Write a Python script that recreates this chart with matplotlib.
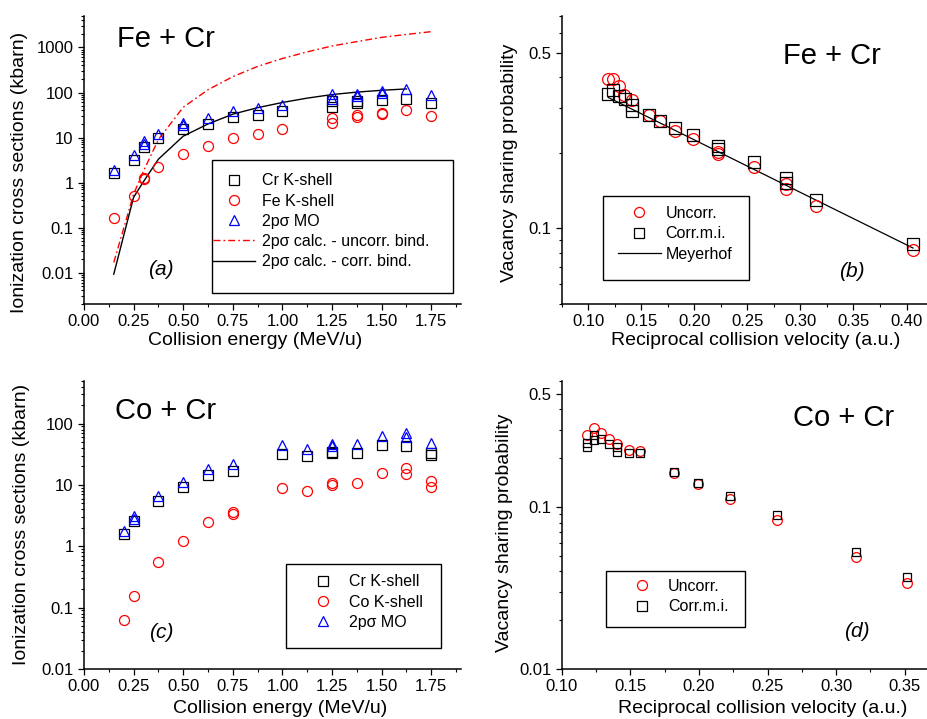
import matplotlib
matplotlib.use("Agg")
import matplotlib.pyplot as plt
from matplotlib.patches import Rectangle
from matplotlib.ticker import FixedLocator, MultipleLocator, FormatStrFormatter, FuncFormatter, LogLocator, NullFormatter
from matplotlib.lines import Line2D

plt.rcParams['font.family'] = ['Liberation Sans', 'DejaVu Sans']

# --- (a) Fe + Cr cross sections
a_cr_E = [0.15, 0.25, 0.30, 0.375, 0.5, 0.625, 0.75, 0.875, 1.0, 1.25, 1.25, 1.375, 1.375, 1.5, 1.625, 1.75]
a_cr = [1.6, 3.2, 6.1, 9.8, 15.2, 19.5, 28.5, 31, 38.5, 46.5, 64, 58, 64, 66.5, 73, 58.5]
a_fe_E = [0.15, 0.25, 0.30, 0.30, 0.375, 0.5, 0.625, 0.75, 0.875, 1.0, 1.25, 1.25, 1.375, 1.375, 1.5, 1.5, 1.625, 1.75]
a_fe = [0.163, 0.51, 1.17, 1.26, 2.2, 4.2, 6.4, 9.8, 11.8, 15.5, 27, 21.5, 31, 28.5, 35, 33, 40, 30]
a_mo_E = [0.15, 0.25, 0.30, 0.30, 0.375, 0.5, 0.5, 0.625, 0.75, 0.875, 1.0, 1.25, 1.25, 1.375, 1.375, 1.5, 1.5, 1.625, 1.75]
a_mo = [1.85, 4.0, 8.3, 7.2, 12.2, 21, 19, 27.5, 39.5, 45, 53, 94, 70, 92, 82, 106, 97, 117, 90]
a_unc_E = [0.15, 0.25, 0.30, 0.375, 0.5, 0.625, 0.75, 0.875, 1.0, 1.125, 1.25, 1.375, 1.5, 1.625, 1.75]
a_unc = [0.0167, 0.55, 1.8, 9, 47, 115, 225, 380, 570, 800, 1080, 1350, 1680, 1950, 2250]
a_cor_E = [0.15, 0.25, 0.30, 0.375, 0.5, 0.625, 0.75, 0.875, 1.0, 1.125, 1.25, 1.375, 1.5, 1.625]
a_cor = [0.0092, 0.47, 1.05, 3.3, 10.7, 20, 33, 46, 60, 75, 90, 102, 112, 120]

# --- (b) Fe + Cr vacancy sharing
b_unc_x = [0.1182, 0.1235, 0.1289, 0.1336, 0.1408, 0.1575, 0.1678, 0.1816, 0.1989, 0.2221, 0.2221, 0.2564, 0.2868, 0.2868, 0.3144, 0.4061]
b_unc = [0.393, 0.392, 0.369, 0.341, 0.324, 0.283, 0.267, 0.244, 0.226, 0.198, 0.201, 0.175, 0.144, 0.150, 0.123, 0.0818]
b_cor_x = [0.1188, 0.1235, 0.1289, 0.1342, 0.1408, 0.1408, 0.1575, 0.1678, 0.1816, 0.1989, 0.2221, 0.2221, 0.2564, 0.2868, 0.2868, 0.3144, 0.4061]
b_cor = [0.343, 0.354, 0.337, 0.326, 0.310, 0.293, 0.283, 0.268, 0.252, 0.235, 0.212, 0.207, 0.183, 0.159, 0.151, 0.130, 0.0867]
b_mey_x = [0.1188, 0.2, 0.3, 0.4061]
b_mey = [0.332, 0.225, 0.139, 0.0835]

# --- (c) Co + Cr cross sections
c_cr_E = [0.2, 0.25, 0.375, 0.5, 0.625, 0.75, 1.0, 1.125, 1.25, 1.25, 1.375, 1.5, 1.625, 1.75, 1.75]
c_cr = [1.6, 2.6, 5.5, 9.1, 14.7, 17.1, 32, 29.3, 35, 33.7, 33.2, 44.8, 42.6, 30.4, 33]
c_co_E = [0.2, 0.25, 0.375, 0.5, 0.625, 0.75, 0.75, 1.0, 1.125, 1.25, 1.25, 1.375, 1.5, 1.625, 1.625, 1.75, 1.75]
c_co = [0.063, 0.156, 0.565, 1.23, 2.48, 3.57, 3.4, 9.0, 8.1, 10.7, 9.8, 10.9, 15.6, 18.9, 15.1, 11.5, 9.4]
c_mo_E = [0.2, 0.25, 0.25, 0.375, 0.5, 0.625, 0.75, 1.0, 1.125, 1.25, 1.25, 1.375, 1.5, 1.625, 1.625, 1.75]
c_mo = [1.77, 3.07, 2.8, 6.7, 11, 18.2, 21.9, 44.3, 38.6, 47.1, 43.7, 46.6, 63.7, 70.4, 60.5, 48.4]

# --- (d) Co + Cr vacancy sharing
d_unc_x = [0.1182, 0.1236, 0.1285, 0.1343, 0.1406, 0.1489, 0.1572, 0.1818, 0.1990, 0.2226, 0.2569, 0.3146, 0.3518]
d_unc = [0.278, 0.307, 0.285, 0.262, 0.245, 0.223, 0.220, 0.161, 0.139, 0.1115, 0.0831, 0.0489, 0.0341]
d_cor_x = [0.1187, 0.1187, 0.1236, 0.1236, 0.1285, 0.1343, 0.1406, 0.1406, 0.1489, 0.1572, 0.1818, 0.1990, 0.2226, 0.2569, 0.3146, 0.3518]
d_cor = [0.247, 0.233, 0.278, 0.259, 0.262, 0.245, 0.233, 0.218, 0.214, 0.214, 0.163, 0.141, 0.117, 0.0888, 0.0528, 0.0368]

RED = '#ff0000'
BLUE = '#0000ff'
TICK_FS = 12
LAB_FS = 14
LEG_FS = 11.5
DASHDOT = (0, (5, 2.2, 1.2, 2.2))


def style_axes(ax):
    for s in ('top', 'right'):
        ax.spines[s].set_visible(False)
    for s in ('left', 'bottom'):
        ax.spines[s].set_linewidth(1.1)
    ax.tick_params(which='major', direction='out', length=4.5, width=0.9, labelsize=TICK_FS, pad=3)
    ax.tick_params(which='minor', direction='out', length=2.3, width=0.8)


def gfmt(v, pos):
    return '%g' % v


def open_marker(ax, x, y, m, c, ms):
    ax.plot(x, y, ls='none', marker=m, ms=ms, mfc='none', mec=c, mew=0.9)


def framed_legend(ax, handles, anchor, box, hl, htp):
    leg = ax.legend(handles=handles, loc='upper left', bbox_to_anchor=anchor,
                    frameon=False, fontsize=LEG_FS, borderpad=0, borderaxespad=0,
                    handlelength=hl, handletextpad=htp, labelspacing=0.33)
    x0, y0, x1, y1 = box
    ax.add_patch(Rectangle((x0, y0), x1 - x0, y1 - y0, transform=ax.transAxes,
                           fill=False, ec='black', lw=1.0, zorder=5))
    return leg


fig = plt.figure(figsize=(9.28, 7.19), dpi=100)
ax_a = fig.add_axes([0.0905, 0.5772, 0.4063, 0.4005])
ax_b = fig.add_axes([0.6053, 0.5772, 0.3933, 0.4005])
ax_c = fig.add_axes([0.0905, 0.0695, 0.4063, 0.4010])
ax_d = fig.add_axes([0.6053, 0.0695, 0.3933, 0.4010])

# ---------------- (a)
ax = ax_a
ax.set_yscale('log')
ax.plot(a_unc_E, a_unc, color=RED, lw=1.0, ls=DASHDOT)
ax.plot(a_cor_E, a_cor, color='black', lw=1.0)
open_marker(ax, a_cr_E, a_cr, 's', 'black', 6.5)
open_marker(ax, a_fe_E, a_fe, 'o', RED, 7.2)
open_marker(ax, a_mo_E, a_mo, '^', BLUE, 7.8)
ax.set_xlim(0, 1.9)
ax.set_ylim(0.002, 5000)
ax.yaxis.set_major_locator(FixedLocator([0.01, 0.1, 1, 10, 100, 1000]))
ax.yaxis.set_major_formatter(FuncFormatter(gfmt))
ax.yaxis.set_minor_locator(LogLocator(subs=range(2, 10), numticks=30))
ax.yaxis.set_minor_formatter(NullFormatter())
ax.xaxis.set_major_locator(MultipleLocator(0.25))
ax.xaxis.set_minor_locator(MultipleLocator(0.125))
ax.xaxis.set_major_formatter(FormatStrFormatter('%.2f'))
style_axes(ax)
ax.set_xlabel('Collision energy (MeV/u)', fontsize=LAB_FS)
ax.set_ylabel('Ionization cross sections (kbarn)', fontsize=LAB_FS)
ax.xaxis.set_label_coords(0.454, -0.097)
ax.yaxis.set_label_coords(-0.149, 0.457)
ax.text(0.087, 0.92, 'Fe + Cr', transform=ax.transAxes, fontsize=21, va='center', ha='left')
ax.text(0.205, 0.12, '(a)', transform=ax.transAxes, fontsize=15, style='italic', va='center', ha='center')
h_a = [
    Line2D([], [], ls='none', marker='s', ms=6.5, mfc='none', mec='black', mew=0.9, label='Cr K-shell'),
    Line2D([], [], ls='none', marker='o', ms=7.2, mfc='none', mec=RED, mew=0.9, label='Fe K-shell'),
    Line2D([], [], ls='none', marker='^', ms=7.8, mfc='none', mec=BLUE, mew=0.9, label='2pσ MO'),
    Line2D([], [], color=RED, lw=1.0, ls=DASHDOT, label='2pσ calc. - uncorr. bind.'),
    Line2D([], [], color='black', lw=1.0, label='2pσ calc. - corr. bind.'),
]
framed_legend(ax, h_a, (0.343, 0.454), (0.339, 0.039, 0.980, 0.5), 2.6, 0.46)

# ---------------- (b)
ax = ax_b
ax.set_yscale('log')
ax.plot(b_mey_x, b_mey, color='black', lw=0.9)
open_marker(ax, b_unc_x, b_unc, 'o', RED, 8.5)
open_marker(ax, b_cor_x, b_cor, 's', 'black', 8.0)
ax.set_xlim(0.075, 0.419)
ax.set_ylim(0.05, 0.7)
ax.yaxis.set_major_locator(FixedLocator([0.1, 0.5]))
ax.yaxis.set_major_formatter(FuncFormatter(gfmt))
ax.yaxis.set_minor_locator(LogLocator(subs=range(2, 10), numticks=30))
ax.yaxis.set_minor_formatter(NullFormatter())
ax.xaxis.set_major_locator(MultipleLocator(0.05))
ax.xaxis.set_minor_locator(MultipleLocator(0.025))
ax.xaxis.set_major_formatter(FormatStrFormatter('%.2f'))
style_axes(ax)
ax.set_xlabel('Reciprocal collision velocity (a.u.)', fontsize=LAB_FS)
ax.set_ylabel('Vacancy sharing probability', fontsize=LAB_FS)
ax.xaxis.set_label_coords(0.532, -0.097)
ax.yaxis.set_label_coords(-0.12, 0.49)
ax.text(0.607, 0.861, 'Fe + Cr', transform=ax.transAxes, fontsize=21, va='center', ha='left')
ax.text(0.794, 0.112, '(b)', transform=ax.transAxes, fontsize=15, style='italic', va='center', ha='center')
h_b = [
    Line2D([], [], ls='none', marker='o', ms=7.2, mfc='none', mec=RED, mew=0.9, label='Uncorr.'),
    Line2D([], [], ls='none', marker='s', ms=6.5, mfc='none', mec='black', mew=0.9, label='Corr.m.i.'),
    Line2D([], [], color='black', lw=0.9, label='Meyerhof'),
]
framed_legend(ax, h_b, (0.153, 0.340), (0.112, 0.083, 0.512, 0.375), 2.7, 0.31)

# ---------------- (c)
ax = ax_c
ax.set_yscale('log')
open_marker(ax, c_cr_E, c_cr, 's', 'black', 6.5)
open_marker(ax, c_co_E, c_co, 'o', RED, 7.2)
open_marker(ax, c_mo_E, c_mo, '^', BLUE, 7.8)
ax.set_xlim(0, 1.9)
ax.set_ylim(0.01, 500)
ax.yaxis.set_major_locator(FixedLocator([0.01, 0.1, 1, 10, 100]))
ax.yaxis.set_major_formatter(FuncFormatter(gfmt))
ax.yaxis.set_minor_locator(LogLocator(subs=range(2, 10), numticks=30))
ax.yaxis.set_minor_formatter(NullFormatter())
ax.xaxis.set_major_locator(MultipleLocator(0.25))
ax.xaxis.set_minor_locator(MultipleLocator(0.125))
ax.xaxis.set_major_formatter(FormatStrFormatter('%.2f'))
style_axes(ax)
ax.set_xlabel('Collision energy (MeV/u)', fontsize=LAB_FS)
ax.set_ylabel('Ionization cross sections (kbarn)', fontsize=LAB_FS)
ax.xaxis.set_label_coords(0.52, -0.108)
ax.yaxis.set_label_coords(-0.144, 0.5)
ax.text(0.082, 0.896, 'Co + Cr', transform=ax.transAxes, fontsize=21, va='center', ha='left')
ax.text(0.206, 0.126, '(c)', transform=ax.transAxes, fontsize=15, style='italic', va='center', ha='center')
h_c = [
    Line2D([], [], ls='none', marker='s', ms=6.5, mfc='none', mec='black', mew=0.9, label='Cr K-shell'),
    Line2D([], [], ls='none', marker='o', ms=7.2, mfc='none', mec=RED, mew=0.9, label='Co K-shell'),
    Line2D([], [], ls='none', marker='^', ms=7.8, mfc='none', mec=BLUE, mew=0.9, label='2pσ MO'),
]
framed_legend(ax, h_c, (0.578, 0.328), (0.535, 0.074, 0.946, 0.364), 2.6, 0.34)

# ---------------- (d)
ax = ax_d
ax.set_yscale('log')
open_marker(ax, d_unc_x, d_unc, 'o', RED, 7.0)
open_marker(ax, d_cor_x, d_cor, 's', 'black', 6.2)
ax.set_xlim(0.10, 0.366)
ax.set_ylim(0.01, 0.6)
ax.yaxis.set_major_locator(FixedLocator([0.01, 0.1, 0.5]))
ax.yaxis.set_major_formatter(FuncFormatter(gfmt))
ax.yaxis.set_minor_locator(LogLocator(subs=range(2, 10), numticks=30))
ax.yaxis.set_minor_formatter(NullFormatter())
ax.xaxis.set_major_locator(MultipleLocator(0.05))
ax.xaxis.set_minor_locator(MultipleLocator(0.025))
ax.xaxis.set_major_formatter(FormatStrFormatter('%.2f'))
style_axes(ax)
ax.set_xlabel('Reciprocal collision velocity (a.u.)', fontsize=LAB_FS)
ax.set_ylabel('Vacancy sharing probability', fontsize=LAB_FS)
ax.xaxis.set_label_coords(0.551, -0.108)
ax.yaxis.set_label_coords(-0.133, 0.472)
ax.text(0.633, 0.870, 'Co + Cr', transform=ax.transAxes, fontsize=21, va='center', ha='left')
ax.text(0.809, 0.129, '(d)', transform=ax.transAxes, fontsize=15, style='italic', va='center', ha='center')
h_d = [
    Line2D([], [], ls='none', marker='o', ms=7.2, mfc='none', mec=RED, mew=0.9, label='Uncorr.'),
    Line2D([], [], ls='none', marker='s', ms=6.5, mfc='none', mec='black', mew=0.9, label='Corr.m.i.'),
]
framed_legend(ax, h_d, (0.16, 0.312), (0.121, 0.147, 0.502, 0.339), 2.7, 0.31)

fig.savefig('out.png', dpi=100)
